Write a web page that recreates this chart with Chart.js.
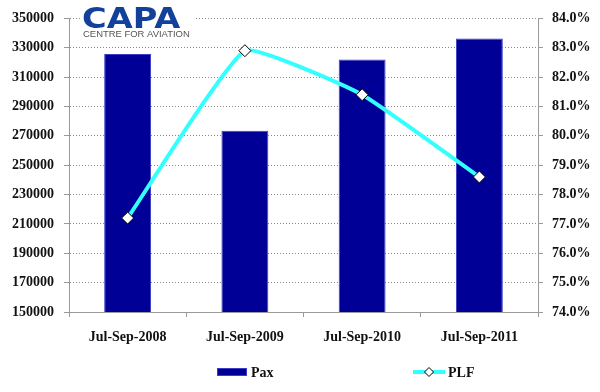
<!DOCTYPE html>
<html>
<head>
<meta charset="utf-8">
<script src="https://cdn.jsdelivr.net/npm/chart.js@4/dist/chart.umd.min.js"></script>
<style>
  html, body { margin: 0; padding: 0; background: #fff; }
  #wrap { width: 600px; height: 392px; }
</style>
</head>
<body>
<div id="wrap"><canvas id="paxChart"></canvas></div>
<script>
var quarters = ['Jul-Sep-2008', 'Jul-Sep-2009', 'Jul-Sep-2010', 'Jul-Sep-2011'];
var paxValues = [325800, 273500, 322000, 336300];
var plfValues = [77.2, 82.9, 81.4, 78.6];

var barColor = '#000096';
var lineColor = '#33ffff';
var axisGrey = '#9a9a9a';

// Excel style legend: box for Pax, line with diamond for PLF
var legendDraw = {
	id: 'legendDraw',
	afterDraw: function(chart) {
		var ctx = chart.ctx;
		var y = 372;
		ctx.save();
		ctx.fillStyle = barColor;
		ctx.fillRect(217, y - 4, 30, 8);
		ctx.strokeStyle = '#3c3cc8';
		ctx.lineWidth = 1;
		ctx.strokeRect(217.5, y - 3.5, 29, 7);

		ctx.strokeStyle = lineColor;
		ctx.lineWidth = 4;
		ctx.beginPath();
		ctx.moveTo(413, y);
		ctx.lineTo(445, y);
		ctx.stroke();
		ctx.beginPath();
		ctx.moveTo(429, y - 4.5);
		ctx.lineTo(433.5, y);
		ctx.lineTo(429, y + 4.5);
		ctx.lineTo(424.5, y);
		ctx.closePath();
		ctx.fillStyle = '#fff';
		ctx.fill();
		ctx.strokeStyle = '#000';
		ctx.lineWidth = 1;
		ctx.stroke();

		ctx.fillStyle = '#111';
		ctx.font = 'bold 14px "Liberation Serif"';
		ctx.textBaseline = 'middle';
		ctx.textAlign = 'left';
		ctx.fillText('Pax', 251, y + 1);
		ctx.fillText('PLF', 448, y + 1);
		ctx.restore();
	}
};

// CAPA logo in the top left corner
var logoDraw = {
	id: 'logoDraw',
	afterDraw: function(chart) {
		var ctx = chart.ctx;
		ctx.save();
		ctx.fillStyle = '#fff';
		ctx.fillRect(80, 0, 116, 39);
		ctx.fillStyle = '#13409a';
		ctx.font = 'bold 28px "DejaVu Sans"';
		ctx.textBaseline = 'alphabetic';
		ctx.textAlign = 'left';
		ctx.translate(82, 28);
		ctx.scale(1.2, 1);
		ctx.fillText('CAPA', 0, 0);
		ctx.restore();
		ctx.save();
		ctx.fillStyle = '#555';
		ctx.font = '9px "Liberation Sans"';
		ctx.textBaseline = 'alphabetic';
		ctx.translate(83, 37);
		ctx.scale(1.05, 1);
		ctx.fillText('CENTRE FOR AVIATION', 0, 0);
		ctx.restore();
	}
};

Chart.defaults.font.family = '"Liberation Serif"';
Chart.defaults.font.weight = 'bold';
Chart.defaults.font.size = 14;
Chart.defaults.color = '#111';

var ctx = document.getElementById('paxChart');
var chart = new Chart(ctx, {
	type: 'bar',
	data: {
		labels: quarters,
		datasets: [{
			type: 'line',
			label: 'PLF',
			data: plfValues,
			yAxisID: 'yPlf',
			borderColor: lineColor,
			borderWidth: 4,
			tension: 0.12,
			pointStyle: 'rectRot',
			pointRadius: 6,
			pointBackgroundColor: '#fff',
			pointBorderColor: '#000',
			pointBorderWidth: 1,
			order: 0
		}, {
			type: 'bar',
			label: 'Pax',
			data: paxValues,
			yAxisID: 'yPax',
			backgroundColor: barColor,
			borderColor: '#3c3cc8',
			borderWidth: 1,
			categoryPercentage: 1,
			barPercentage: 0.4,
			order: 1
		}]
	},
	options: {
		responsive: true,
		maintainAspectRatio: false,
		animation: false,
		layout: { padding: { top: 15, bottom: 40, left: 0, right: 0 } },
		plugins: {
			legend: { display: false },
			tooltip: { enabled: false }
		},
		scales: {
			x: {
				grid: { offset: true, drawOnChartArea: false, drawTicks: true, tickLength: 5, color: axisGrey },
				border: { color: axisGrey },
				ticks: { padding: 12, maxRotation: 0 },
				afterFit: function(scale) { scale.height = 40; }
			},
			yPax: {
				position: 'left',
				min: 150000,
				max: 350000,
				ticks: {
					stepSize: 20000,
					padding: 10,
					callback: function(v) { return String(v); }
				},
				grid: { color: '#8a8a8a', tickLength: 5, tickColor: axisGrey },
				border: { color: axisGrey, dash: [1, 2] },
				afterFit: function(scale) { scale.width = 69; }
			},
			yPlf: {
				position: 'right',
				min: 74,
				max: 84,
				ticks: {
					stepSize: 1,
					padding: 9,
					callback: function(v) { return v.toFixed(1) + '%'; }
				},
				grid: { drawOnChartArea: false, tickLength: 5, color: axisGrey },
				border: { color: axisGrey },
				afterFit: function(scale) { scale.width = 62; }
			}
		}
	},
	plugins: [legendDraw, logoDraw]
});
</script>
</body>
</html>
